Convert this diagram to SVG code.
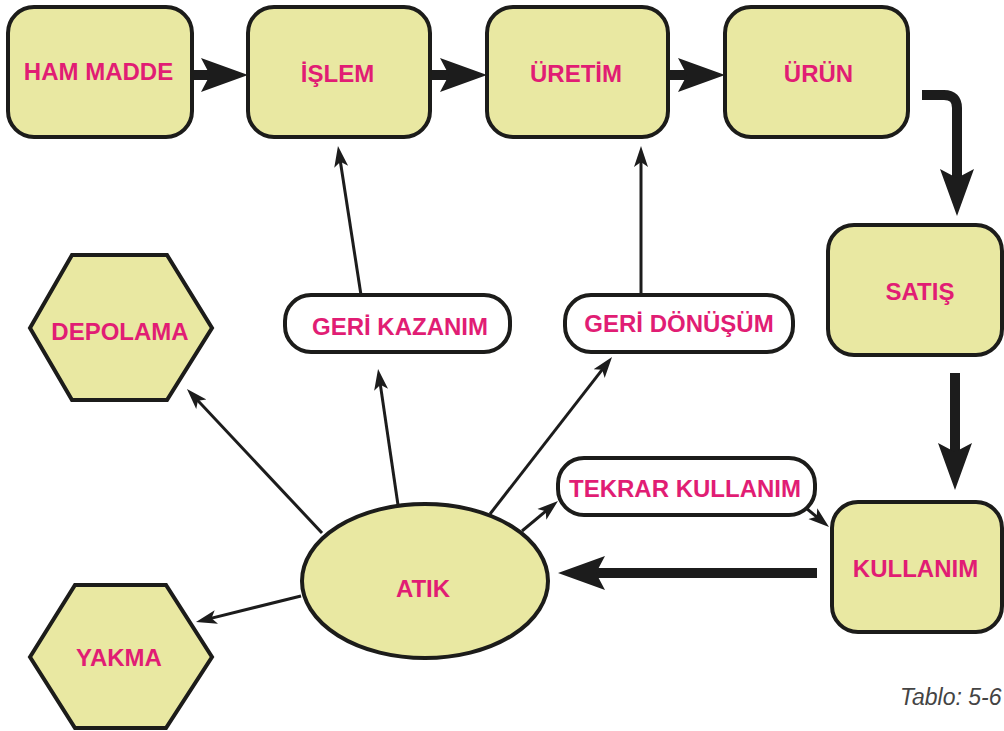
<svg xmlns="http://www.w3.org/2000/svg" width="1004" height="731" viewBox="0 0 1004 731">
<style>
.box{fill:#e9e8a2;stroke:#1c1c1a;stroke-width:4}
.pill{fill:#ffffff;stroke:#1c1c1a;stroke-width:4}
.lbl{font-family:"Liberation Sans",Arial,sans-serif;font-weight:bold;font-size:24px;fill:#e11d74;text-anchor:middle}
.thick{fill:none;stroke:#1c1c1c;stroke-width:10}
.thin{fill:none;stroke:#1c1c1c;stroke-width:3}
.cap{font-family:"Liberation Sans",Arial,sans-serif;font-style:italic;font-size:23px;fill:#444}
</style>
<defs>
<marker id="bigHead" markerUnits="userSpaceOnUse" markerWidth="48" markerHeight="36" viewBox="0 0 48 36" refX="22" refY="18" orient="auto">
<path d="M0,1 L47,18 L0,35 L9,18 z" fill="#1c1c1c"/>
</marker>
<marker id="smallHead" markerUnits="userSpaceOnUse" markerWidth="22" markerHeight="16" viewBox="0 0 22 16" refX="11" refY="8" orient="auto">
<path d="M0,1 L21,8 L0,15 L5,8 z" fill="#1c1c1c"/>
</marker>
</defs>
<rect width="1004" height="731" fill="#ffffff"/>
<g id="connectors">
<line class="thick" x1="192" y1="75" x2="223" y2="75" marker-end="url(#bigHead)"/>
<line class="thick" x1="430" y1="75" x2="462" y2="75" marker-end="url(#bigHead)"/>
<line class="thick" x1="668" y1="75" x2="700" y2="75" marker-end="url(#bigHead)"/>
<path class="thick" d="M922,95 L944,95 Q957,95 957,108 L957,191" marker-end="url(#bigHead)"/>
<line class="thick" x1="955" y1="373" x2="955" y2="465" marker-end="url(#bigHead)"/>
<line class="thick" x1="817" y1="573" x2="583" y2="573" marker-end="url(#bigHead)"/>
<line class="thin" x1="361" y1="295" x2="339.5" y2="155.9" marker-end="url(#smallHead)"/>
<line class="thin" x1="641" y1="295" x2="641" y2="156" marker-end="url(#smallHead)"/>
<line class="thin" x1="398" y1="505" x2="379.5" y2="378.9" marker-end="url(#smallHead)"/>
<line class="thin" x1="322" y1="533" x2="193.8" y2="396.3" marker-end="url(#smallHead)"/>
<line class="thin" x1="490" y1="514" x2="605.9" y2="364.9" marker-end="url(#smallHead)"/>
<line class="thin" x1="522" y1="531" x2="550.3" y2="507.4" marker-end="url(#smallHead)"/>
<line class="thin" x1="806" y1="508" x2="821.3" y2="520.6" marker-end="url(#smallHead)"/>
<line class="thin" x1="301" y1="596" x2="205.7" y2="619.6" marker-end="url(#smallHead)"/>
</g>
<g id="ham-madde"><rect class="box" x="8" y="7" width="184" height="130" rx="26"/><text class="lbl" x="98.5" y="80">HAM MADDE</text></g>
<g id="islem"><rect class="box" x="248" y="7" width="182" height="130" rx="26"/><text class="lbl" x="337.5" y="82">İŞLEM</text></g>
<g id="uretim"><rect class="box" x="487" y="7" width="181" height="130" rx="26"/><text class="lbl" x="576" y="82">ÜRETİM</text></g>
<g id="urun"><rect class="box" x="725" y="7" width="183" height="130" rx="26"/><text class="lbl" x="818.5" y="82">ÜRÜN</text></g>
<g id="satis"><rect class="box" x="828" y="225" width="174" height="130" rx="26"/><text class="lbl" x="920" y="300">SATIŞ</text></g>
<g id="kullanim"><rect class="box" x="832" y="502" width="170" height="130" rx="26"/><text class="lbl" x="915.5" y="577">KULLANIM</text></g>
<g id="geri-kazanim"><rect class="pill" x="285" y="295" width="225" height="57" rx="26"/><text class="lbl" x="400" y="335">GERİ KAZANIM</text></g>
<g id="geri-donusum"><rect class="pill" x="565" y="295" width="228" height="57" rx="26"/><text class="lbl" x="679" y="332">GERİ DÖNÜŞÜM</text></g>
<g id="tekrar-kullanim"><rect class="pill" x="558" y="458" width="257" height="57" rx="26"/><text class="lbl" x="685" y="497">TEKRAR KULLANIM</text></g>
<g id="depolama"><polygon class="box" points="30,328 72,255 167,255 212,328 167,400 72,400"/><text class="lbl" x="120" y="340">DEPOLAMA</text></g>
<g id="yakma"><polygon class="box" points="30,657 75,585 166,585 212,657 166,728 75,728"/><text class="lbl" x="119" y="666">YAKMA</text></g>
<g id="atik"><ellipse class="box" cx="425" cy="581" rx="123" ry="77"/><text class="lbl" x="423" y="597">ATIK</text></g>
<text class="cap" x="900" y="705">Tablo: 5-6</text>
</svg>
